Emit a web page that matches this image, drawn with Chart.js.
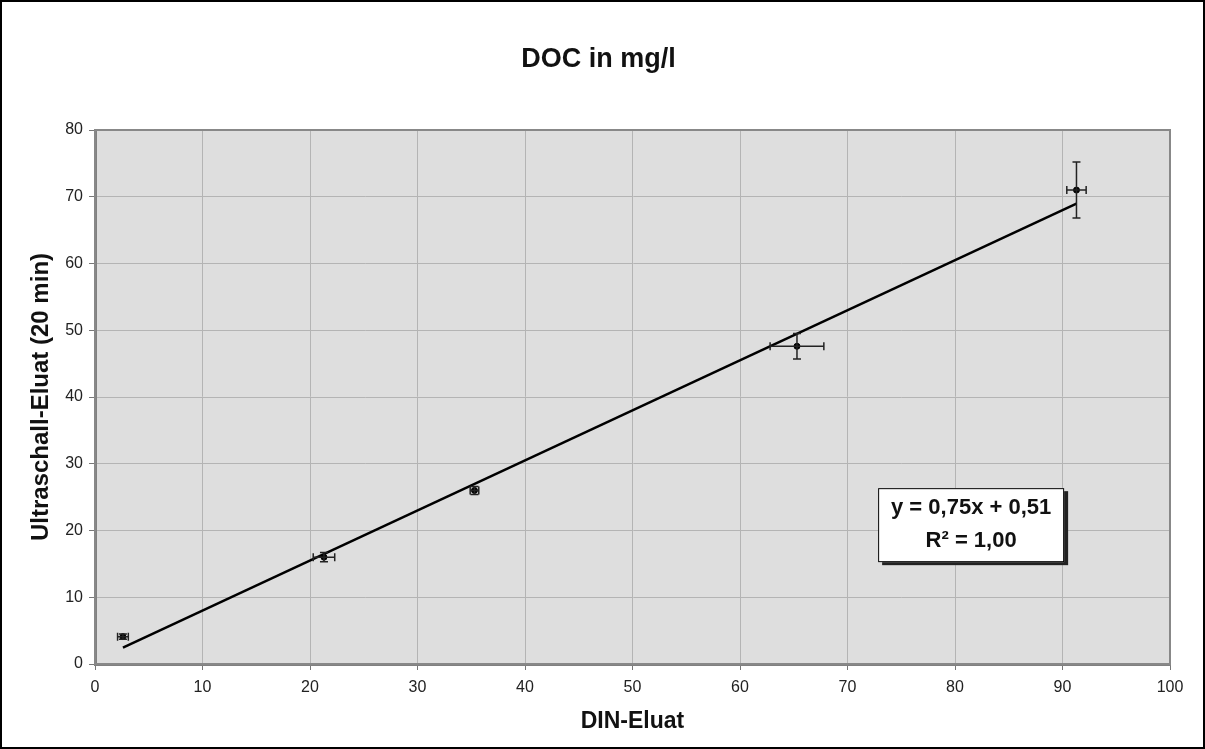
<!DOCTYPE html>
<html>
<head>
<meta charset="utf-8">
<script src="https://cdn.jsdelivr.net/npm/chart.js@4/dist/chart.umd.min.js"></script>
<style>
    html, body { margin: 0; padding: 0; background: #fff; }
    #wrap { width: 1205px; height: 749px; position: relative; }
</style>
</head>
<body>
<div id="wrap"><canvas id="docChart"></canvas></div>
<script>
// DOC in mg/l: DIN-Eluat vs. Ultraschall-Eluat (20 min)
const dinEluat = [2.6, 21.3, 35.3, 65.3, 91.3];
const ultraschallEluat = [4.1, 16.0, 26.0, 47.6, 71.0];
const dinFehler = [0.5, 1.0, 0.4, 2.5, 0.9];
const ultraFehler = [0.4, 0.7, 0.6, 1.9, 4.2];
const xTicks = [0, 10, 20, 30, 40, 50, 60, 70, 80, 90, 100];
const yTicks = [0, 10, 20, 30, 40, 50, 60, 70, 80];
const steigung = 0.75;
const achsenabschnitt = 0.51;
const gleichung = ['y = 0,75x + 0,51', 'R² = 1,00'];

const trendX = [Math.min(...dinEluat), Math.max(...dinEluat)];
const trendData = trendX.map(x => ({ x: x, y: steigung * x + achsenabschnitt }));

const schrift = '"Liberation Sans", Arial, sans-serif';

const rahmenPlugin = {
    id: 'rahmen',
    beforeDraw(chart) {
        const { ctx, chartArea: a } = chart;
        ctx.save();
        ctx.fillStyle = '#dedede';
        ctx.fillRect(a.left, a.top, a.right - a.left, a.bottom - a.top);
        ctx.restore();
    },
    afterDraw(chart) {
        const { ctx, chartArea: a } = chart;
        ctx.save();
        ctx.strokeStyle = '#888';
        ctx.lineWidth = 2;
        ctx.strokeRect(a.left, a.top, a.right - a.left, a.bottom - a.top);
        ctx.strokeStyle = '#000';
        ctx.lineWidth = 2;
        ctx.strokeRect(1, 1, chart.width - 2, chart.height - 2);

        // Gleichungsbox
        const xs = chart.scales.x, ys = chart.scales.y;
        const cx = xs.getPixelForValue(81.5);
        const cy = ys.getPixelForValue(20.8);
        const w = 186, h = 74;
        ctx.fillStyle = '#222';
        ctx.fillRect(cx - w / 2 + 4, cy - h / 2 + 3, w, h);
        ctx.fillStyle = '#fff';
        ctx.fillRect(cx - w / 2, cy - h / 2, w, h);
        ctx.strokeStyle = '#000';
        ctx.lineWidth = 1;
        ctx.strokeRect(cx - w / 2 + 0.5, cy - h / 2 + 0.5, w - 1, h - 1);
        ctx.fillStyle = '#111';
        ctx.font = 'bold 22px ' + schrift;
        ctx.textAlign = 'center';
        ctx.textBaseline = 'middle';
        ctx.fillText(gleichung[0], cx, cy - 17);
        ctx.fillText(gleichung[1], cx, cy + 16);
        ctx.restore();
    }
};

const fehlerPlugin = {
    id: 'fehlerbalken',
    afterDatasetsDraw(chart) {
        const { ctx } = chart;
        const xs = chart.scales.x, ys = chart.scales.y;
        const cap = 4;
        ctx.save();
        ctx.strokeStyle = '#222';
        ctx.lineWidth = 1.5;
        dinEluat.forEach((x, i) => {
            const px = xs.getPixelForValue(x);
            const py = ys.getPixelForValue(ultraschallEluat[i]);
            const x1 = xs.getPixelForValue(x - dinFehler[i]);
            const x2 = xs.getPixelForValue(x + dinFehler[i]);
            const y1 = ys.getPixelForValue(ultraschallEluat[i] - ultraFehler[i]);
            const y2 = ys.getPixelForValue(ultraschallEluat[i] + ultraFehler[i]);
            ctx.beginPath();
            ctx.moveTo(x1, py); ctx.lineTo(x2, py);
            ctx.moveTo(x1, py - cap); ctx.lineTo(x1, py + cap);
            ctx.moveTo(x2, py - cap); ctx.lineTo(x2, py + cap);
            ctx.moveTo(px, y1); ctx.lineTo(px, y2);
            ctx.moveTo(px - cap, y1); ctx.lineTo(px + cap, y1);
            ctx.moveTo(px - cap, y2); ctx.lineTo(px + cap, y2);
            ctx.stroke();
        });
        ctx.restore();
    }
};

new Chart(document.getElementById('docChart'), {
    type: 'scatter',
    data: {
        datasets: [
            {
                label: 'Trend',
                type: 'line',
                data: trendData,
                borderColor: '#000',
                borderWidth: 2.5,
                pointRadius: 0,
                fill: false,
                order: 1
            },
            {
                label: 'DOC',
                data: dinEluat.map((x, i) => ({ x: x, y: ultraschallEluat[i] })),
                backgroundColor: '#000',
                borderColor: '#000',
                pointRadius: 3,
                order: 0
            }
        ]
    },
    options: {
        responsive: true,
        maintainAspectRatio: false,
        animation: false,
        layout: { padding: { left: 27, right: 35, top: 10, bottom: 14 } },
        plugins: {
            legend: { display: false },
            tooltip: { enabled: false },
            title: {
                display: true,
                text: 'DOC in mg/l',
                color: '#111',
                font: { family: schrift, size: 27, weight: 'bold' },
                padding: { top: 33.8, bottom: 53.8 }
            }
        },
        scales: {
            x: {
                type: 'linear',
                min: 0,
                max: 100,
                afterBuildTicks(scale) { scale.ticks = xTicks.map(v => ({ value: v })); },
                afterFit(scale) { scale.height = 71; },
                ticks: { color: '#222', font: { family: schrift, size: 16 }, padding: 8 },
                grid: { color: '#b4b4b4', lineWidth: 1, tickLength: 6, tickColor: '#777' },
                border: { color: '#808080', width: 3 },
                title: {
                    display: true,
                    text: 'DIN-Eluat',
                    color: '#111',
                    font: { family: schrift, size: 23, weight: 'bold' },
                    padding: 0
                }
            },
            y: {
                type: 'linear',
                min: 0,
                max: 80,
                afterBuildTicks(scale) { scale.ticks = yTicks.map(v => ({ value: v })); },
                afterFit(scale) { scale.width = 68; },
                ticks: { color: '#222', font: { family: schrift, size: 16 }, padding: 6 },
                grid: { color: '#b4b4b4', lineWidth: 1, tickLength: 6, tickColor: '#777' },
                border: { color: '#808080', width: 3 },
                title: {
                    display: true,
                    text: 'Ultraschall-Eluat (20 min)',
                    color: '#111',
                    font: { family: schrift, size: 24, weight: 'bold' },
                    padding: 0
                }
            }
        }
    },
    plugins: [rahmenPlugin, fehlerPlugin]
});
</script>
</body>
</html>
